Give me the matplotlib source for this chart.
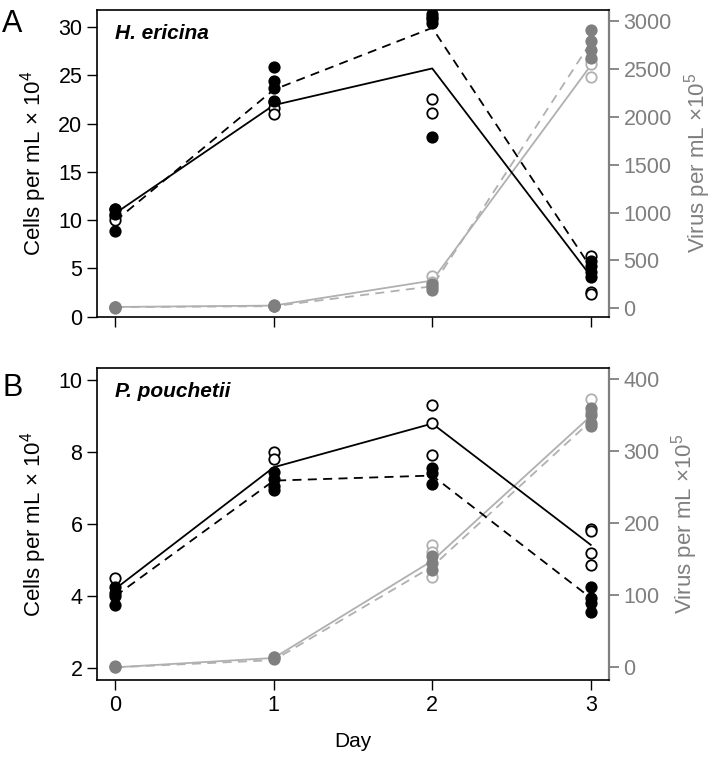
import numpy as np
import matplotlib
matplotlib.use("Agg")
import matplotlib.pyplot as plt

plt.rcParams['font.family'] = ['Liberation Sans', 'DejaVu Sans']
plt.rcParams['mathtext.fontset'] = 'custom'
plt.rcParams['mathtext.rm'] = 'Liberation Sans'
plt.rcParams['mathtext.it'] = 'Liberation Sans:italic'

days = [0, 1, 2, 3]

# panel A, cells (left axis), per day replicates
a_cells_filled = [[11.1, 10.6, 8.9], [25.8, 24.4, 23.7, 22.3], [31.3, 30.8, 30.4, 18.6], [5.8, 5.3, 4.6, 4.1]]
a_cells_open = [[11.2, 10.4, 10.0], [22.2, 21.6, 21.0], [31.0, 22.5, 21.1], [6.3, 2.6, 2.3]]
a_cells_solid = [10.7, 21.9, 25.7, 4.2]
a_cells_dashed = [9.9, 23.5, 29.9, 5.1]
# panel A, virus (right axis)
a_virus_filled = [[10, 15, 8], [25, 30, 20], [190, 220, 250], [2910, 2800, 2700, 2620]]
a_virus_open = [[15, 10], [30, 25], [340, 275], [2600, 2550, 2420]]
a_virus_solid = [14, 28, 290, 2540]
a_virus_dashed = [12, 22, 230, 2780]

# panel B
b_cells_filled = [[4.25, 4.0, 3.75], [7.45, 7.25, 7.05, 6.95], [7.55, 7.4, 7.1], [4.25, 3.95, 3.8, 3.55]]
b_cells_open = [[4.5, 4.1], [8.0, 7.8], [9.3, 8.8, 7.9], [5.85, 5.8, 5.2, 4.85]]
b_cells_solid = [4.2, 7.57, 8.78, 5.42]
b_cells_dashed = [4.0, 7.2, 7.34, 3.95]
b_virus_filled = [[0, 2], [12, 15], [145, 135, 155], [360, 350, 340, 335]]
b_virus_open = [[1], [14], [170, 160, 125], [372, 355]]
b_virus_solid = [0, 13, 148, 349]
b_virus_dashed = [0, 10, 140, 342]

GRAY = '#7f7f7f'
LGRAY = '#b0b0b0'
MS = 7.5


def scatter_reps(ax, reps, face, edge):
    for d, vals in zip(days, reps):
        ax.plot([d] * len(vals), vals, 'o', ms=MS, mfc=face, mec=edge, mew=1.3, zorder=3)


def panel(ax, cf, co, cs, cd, vf, vo, vs, vdsh, ylim_l, yticks_l, ylim_r, yticks_r, name):
    ax2 = ax.twinx()
    ax2.plot(days, vs, '-', color=LGRAY, lw=1.3, zorder=2)
    ax2.plot(days, vdsh, '--', color=LGRAY, lw=1.3, dashes=(5, 3.5), zorder=2)
    scatter_reps(ax2, vo, 'white', LGRAY)
    scatter_reps(ax2, vf, GRAY, GRAY)

    ax.plot(days, cs, '-', color='black', lw=1.3, zorder=2)
    ax.plot(days, cd, '--', color='black', lw=1.3, dashes=(5, 3.5), zorder=2)
    scatter_reps(ax, co, 'white', 'black')
    scatter_reps(ax, cf, 'black', 'black')
    ax.set_zorder(ax2.get_zorder() + 1)
    ax.patch.set_visible(False)

    ax.set_xlim(-0.115, 3.115)
    ax.set_ylim(*ylim_l)
    ax.set_yticks(yticks_l)
    ax2.set_ylim(*ylim_r)
    ax2.set_yticks(yticks_r)
    ax.set_xticks(days)
    ax.tick_params(direction='out', length=7, width=1, labelsize=15.5, colors='black')
    ax2.tick_params(direction='out', length=7, width=1.3, labelsize=15.5, colors=GRAY)
    for s in ['left', 'top', 'bottom']:
        ax.spines[s].set_linewidth(1.2)
        ax2.spines[s].set_visible(False)
    ax.spines['right'].set_visible(False)
    ax2.spines['right'].set_color(GRAY)
    ax2.spines['right'].set_linewidth(1.6)
    ax.set_ylabel('Cells per mL × 10$^4$', fontsize=16, labelpad=7)
    ax2.set_ylabel('Virus per mL ×10$^5$', fontsize=16, color=GRAY, labelpad=7)
    ax.text(0.035, 0.925, name, transform=ax.transAxes, fontsize=15,
            fontstyle='italic', fontweight='bold', va='center')
    return ax2


fig = plt.figure(figsize=(7.22, 7.58), dpi=100)
axA = fig.add_axes([97 / 722, 1 - 316.7 / 758, 512 / 722, 306.7 / 758])
axB = fig.add_axes([97 / 722, 1 - 680 / 758, 512 / 722, 312 / 758])

panel(axA, a_cells_filled, a_cells_open, a_cells_solid, a_cells_dashed,
      a_virus_filled, a_virus_open, a_virus_solid, a_virus_dashed,
      (0, 31.75), [0, 5, 10, 15, 20, 25, 30], (-88, 3120),
      [0, 500, 1000, 1500, 2000, 2500, 3000], 'H. ericina')
axA.set_xticklabels([])

panel(axB, b_cells_filled, b_cells_open, b_cells_solid, b_cells_dashed,
      b_virus_filled, b_virus_open, b_virus_solid, b_virus_dashed,
      (1.676, 10.32), [2, 4, 6, 8, 10], (-17.6, 415.7),
      [0, 100, 200, 300, 400], 'P. pouchetii')
axB.set_xlabel('Day', fontsize=15, labelpad=12)

fig.text(0.003, 0.988, 'A', fontsize=22, va='top')
fig.text(0.003, 0.508, 'B', fontsize=22, va='top')

fig.savefig('out.png', dpi=100)
